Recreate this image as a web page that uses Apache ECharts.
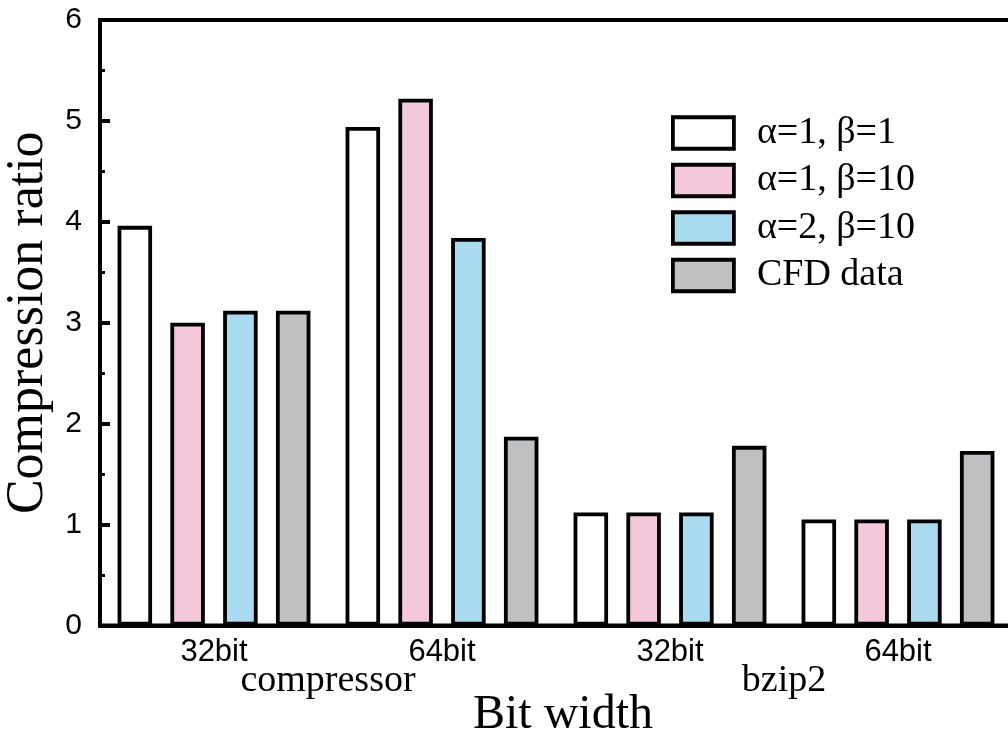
<!DOCTYPE html>
<html>
<head>
<meta charset="utf-8">
<script src="https://cdn.jsdelivr.net/npm/echarts@6/dist/echarts.min.js"></script>
<style>html,body{margin:0;padding:0;background:#fff}#c{width:1008px;height:733px}</style>
</head>
<body>
<div id="c"></div>
<script>
var categories = ['32bit', '64bit', '32bit', '64bit'];
var groups = ['compressor', 'bzip2'];
var seriesNames = ['\u03b1=1, \u03b2=1', '\u03b1=1, \u03b2=10', '\u03b1=2, \u03b2=10', 'CFD data'];
var s1 = [3.96, 4.94, 1.12, 1.05];
var s2 = [3.00, 5.22, 1.12, 1.05];
var s3 = [3.12, 3.84, 1.12, 1.05];
var s4 = [3.12, 1.87, 1.78, 1.73];
var colors = ['#FFFFFF', '#F4C8DA', '#A9DAF0', '#BFC0C2'];

var serif = '"Liberation Serif", "DejaVu Serif", serif';
var sans = '"Liberation Sans", Arial, sans-serif';
var data = [s1, s2, s3, s4];

var chart = echarts.init(document.getElementById('c'));
chart.setOption({
  animation: false,
  backgroundColor: '#fff',
  grid: { left: 100, right: -4, top: 20, bottom: 107.5, show: true, borderColor: '#000', borderWidth: 4,
          containLabel: false, outerBoundsMode: 'none' },
  legend: {
    left: 671, top: 114, orient: 'vertical', icon: 'rect', padding: 0,
    itemWidth: 61, itemHeight: 31.5, itemGap: 9.5,
    textStyle: { fontFamily: serif, fontSize: 38, color: '#000', padding: [0, 0, 0, 18] },
    itemStyle: { borderColor: '#000', borderWidth: 3.8 },
    data: seriesNames
  },
  xAxis: [{
    type: 'category', data: categories,
    axisLine: { lineStyle: { color: '#000', width: 4 } },
    axisTick: { show: false },
    axisLabel: { fontFamily: sans, fontSize: 31, color: '#000', margin: 11 },
    name: 'Bit width', nameLocation: 'middle', nameGap: 66,
    nameTextStyle: { fontFamily: serif, fontSize: 48, color: '#000', padding: [0, 0, 0, 14] }
  }, {
    type: 'category', data: groups, position: 'bottom',
    axisLine: { show: false }, axisTick: { show: false },
    axisLabel: { fontFamily: serif, fontSize: 38, color: '#000', margin: 37 }
  }],
  yAxis: {
    type: 'value', min: 0, max: 6, interval: 1,
    axisLine: { show: true, lineStyle: { color: '#000', width: 4 } },
    axisTick: { show: true, inside: true, length: 10, lineStyle: { width: 4, color: '#000' } },
    minorTick: { show: true, splitNumber: 2, length: 5, lineStyle: { width: 3, color: '#000' } },
    splitLine: { show: false },
    axisLabel: { fontFamily: sans, fontSize: 30, color: '#000', margin: 18 },
    name: 'Compression ratio', nameLocation: 'middle', nameGap: 41,
    nameTextStyle: { fontFamily: serif, fontSize: 52, color: '#000' }
  },
  series: data.map(function (d, i) {
    return {
      name: seriesNames[i], type: 'bar', data: d, xAxisIndex: 0,
      barWidth: 34.5, barGap: '53%',
      itemStyle: { color: colors[i], borderColor: '#000', borderWidth: 3.8 }
    };
  })
});
</script>
</body>
</html>
